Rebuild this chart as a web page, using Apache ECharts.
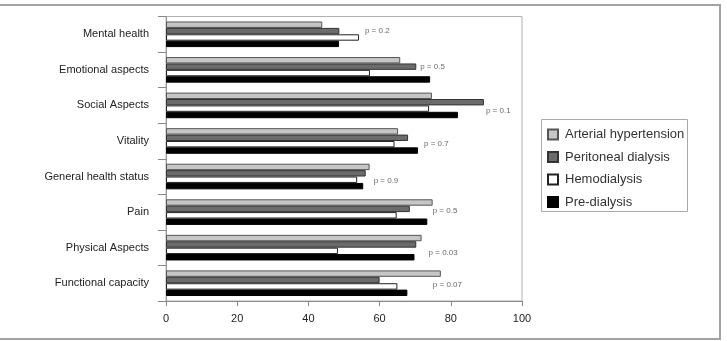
<!DOCTYPE html>
<html>
<head>
<meta charset="utf-8">
<script src="https://cdn.jsdelivr.net/npm/echarts@6/dist/echarts.min.js"></script>
<style>
  html, body { margin: 0; padding: 0; background: #fff; }
  #chart { width: 727px; height: 341px; }
</style>
</head>
<body>
<div id="chart"></div>
<script>
// categories, top to bottom
const categories = [
  'Mental health',
  'Emotional aspects',
  'Social Aspects',
  'Vitality',
  'General health status',
  'Pain',
  'Physical Aspects',
  'Functional capacity'
]

const seriesNames = ['Arterial hypertension', 'Peritoneal dialysis', 'Hemodialysis', 'Pre-dialysis']

const arterial = [43.9, 65.8, 74.7, 65.2, 57.2, 74.9, 71.8, 77.2]
const peritoneal = [48.7, 70.3, 89.3, 68.0, 56.1, 68.5, 70.3, 60.0]
const hemodialysis = [54.2, 57.3, 73.9, 64.2, 53.7, 64.8, 48.3, 65.0]
const preDialysis = [48.6, 74.2, 82.0, 70.8, 55.4, 73.4, 69.8, 67.8]

const pValues = ['0.2', '0.5', '0.1', '0.7', '0.9', '0.5', '0.03', '0.07']

const xTicks = [0, 20, 40, 60, 80, 100]

// styling only (pixel nudges for the p labels)
const pLabelOffset = [[6, -3], [-10, -3], [2, 5], [6, 3], [4, 4], [0, -1], [7, 5], [-8, 2]]

const fills = ['#c6c6c6', '#6b6b6b', '#ffffff', '#000000']
const borders = ['#555555', '#333333', '#222222', '#000000']
const seriesData = [arterial, peritoneal, hemodialysis, preDialysis]

const font = 'Liberation Sans'

const chart = echarts.init(document.getElementById('chart'))

const barSeries = seriesNames.map((name, i) => ({
  name,
  type: 'bar',
  data: seriesData[i],
  barGap: '0%',
  barCategoryGap: '28%',
  itemStyle: { color: fills[i], borderColor: borders[i], borderWidth: 1 },
  emphasis: { disabled: true },
  animation: false
}))

const pData = categories.map((c, i) => {
  const maxVal = Math.max(arterial[i], peritoneal[i], hemodialysis[i], preDialysis[i])
  return {
    value: [maxVal, c],
    label: {
      offset: pLabelOffset[i],
      formatter: 'p = ' + pValues[i],
      fontFamily: font,
      fontSize: 8
    }
  }
})

chart.setOption({
  animation: false,
  textStyle: { fontFamily: font },
  graphic: [
    {
      type: 'rect',
      shape: { x: -3, y: 5, width: 723, height: 334 },
      style: { fill: 'none', stroke: '#a3a3a3', lineWidth: 2 },
      silent: true
    },
    {
      type: 'rect',
      shape: { x: 541.5, y: 119.5, width: 146, height: 92 },
      style: { fill: 'none', stroke: '#aaaaaa', lineWidth: 1 },
      silent: true
    }
  ],
  legend: {
    data: seriesNames,
    orient: 'vertical',
    left: 547,
    top: 128,
    padding: 0,
    icon: 'rect',
    itemWidth: 10,
    itemHeight: 10,
    itemGap: 9.5,
    selectedMode: false,
    textStyle: { fontFamily: font, fontSize: 13, color: '#333', padding: [0, 0, 0, 2] }
  },
  grid: {
    left: 166,
    right: 205,
    top: 16.5,
    bottom: 40,
    show: true,
    borderColor: '#b0b0b0',
    borderWidth: 1
  },
  xAxis: {
    type: 'value',
    min: 0,
    max: 100,
    interval: 20,
    axisLine: { show: true, lineStyle: { color: '#888' } },
    axisTick: { show: true, length: 5, lineStyle: { color: '#888' } },
    splitLine: { show: false },
    axisLabel: {
      color: '#222',
      fontSize: 11,
      margin: 12,
      fontFamily: font,
      formatter: (v) => (xTicks.includes(v) ? String(v) : '')
    }
  },
  yAxis: {
    type: 'category',
    data: categories,
    inverse: true,
    axisLine: { show: true, lineStyle: { color: '#999' } },
    axisTick: { show: true, length: 8, lineStyle: { color: '#888' } },
    axisLabel: { color: '#222', fontSize: 11, margin: 17, fontFamily: font }
  },
  series: [
    ...barSeries,
    {
      type: 'scatter',
      data: pData,
      symbolSize: 0,
      silent: true,
      z: 5,
      label: {
        show: true,
        position: 'right',
        distance: 0,
        fontSize: 8,
        color: '#444',
        fontFamily: font
      },
      emphasis: { disabled: true }
    }
  ]
})
</script>
</body>
</html>
